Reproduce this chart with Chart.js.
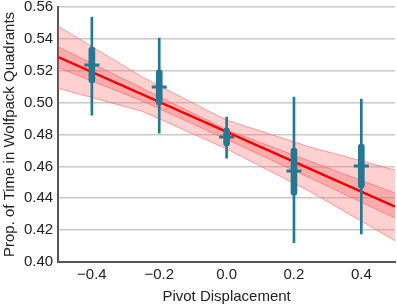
<!DOCTYPE html>
<html>
<head>
<meta charset="utf-8">
<script src="https://cdn.jsdelivr.net/npm/chart.js@4"></script>
<style>
  html, body { margin: 0; padding: 0; background: #fff; overflow: hidden; }
  #wrap { width: 397px; height: 307px; }
  canvas { display: block; }
</style>
</head>
<body>
<div id="wrap"><canvas id="myChart" width="397" height="307"></canvas></div>
<script>
// pivot displacement groups
const xs = [-0.4, -0.2, 0.0, 0.2, 0.4];
const tickLabels = ['\u22120.4', '\u22120.2', '0.0', '0.2', '0.4'];

// group estimates with intervals
const means   = [0.5236, 0.5098, 0.4784, 0.4571, 0.4602];
const thinLo  = [0.4922, 0.4809, 0.4652, 0.4121, 0.4176];
const thinHi  = [0.5537, 0.5405, 0.4910, 0.5035, 0.5023];
const thickLo = [0.5123, 0.4985, 0.4728, 0.4420, 0.4464];
const thickHi = [0.5349, 0.5205, 0.4841, 0.4715, 0.4740];

// regression line + bands
const fitX = [-0.5, 0.5];
const fitY = [0.5286, 0.4347];
const bandX   = [-0.5, -0.25, 0.0, 0.25, 0.5];
const outerHi = [0.548, 0.516, 0.489, 0.4720, 0.4577];
const outerLo = [0.509, 0.4945, 0.471, 0.4440, 0.4134];
const innerHi = [0.535, 0.509, 0.483, 0.4630, 0.4433];
const innerLo = [0.522, 0.501, 0.477, 0.4525, 0.4276];

const teal = '#247892';
const fontFam = 'Liberation Sans';

function pts(x, y) {
  return x.map(function (v, i) { return { x: v, y: y[i] }; });
}
function ranges(lo, hi) {
  return xs.map(function (v, i) { return { x: v, y: [lo[i], hi[i]] }; });
}

const data = {
  datasets: [
    { type: 'line', data: pts(bandX, outerHi), fill: '+1', backgroundColor: 'rgba(255,120,120,0.35)',
      borderColor: 'rgba(245,120,120,0.7)', borderWidth: 1, pointRadius: 0, order: 5 },
    { type: 'line', data: pts(bandX, outerLo), fill: false,
      borderColor: 'rgba(245,120,120,0.7)', borderWidth: 1, pointRadius: 0, order: 5 },
    { type: 'line', data: pts(bandX, innerHi), fill: '+1', backgroundColor: 'rgba(240,90,90,0.3)',
      borderColor: 'rgba(235,100,100,0.6)', borderWidth: 1, pointRadius: 0, order: 4 },
    { type: 'line', data: pts(bandX, innerLo), fill: false,
      borderColor: 'rgba(235,100,100,0.6)', borderWidth: 1, pointRadius: 0, order: 4 },
    { type: 'line', data: pts(fitX, fitY), fill: false,
      borderColor: '#f00000', borderWidth: 2.5, pointRadius: 0, order: 3 },
    { type: 'bar', data: ranges(thinLo, thinHi), backgroundColor: teal,
      barThickness: 2, grouped: false, order: 2 },
    { type: 'bar', data: ranges(thickLo, thickHi), backgroundColor: teal,
      barThickness: 6, borderRadius: 3, borderSkipped: false, grouped: false, order: 1 },
    { type: 'scatter', data: pts(xs, means), pointStyle: 'line', pointRadius: 7.5,
      borderColor: teal, borderWidth: 3, order: 0 }
  ]
};

const config = {
  type: 'bar',
  data: data,
  options: {
    responsive: false,
    animation: false,
    layout: { autoPadding: false, padding: { top: 7, right: 2, left: 1, bottom: 1 } },
    plugins: { legend: { display: false }, tooltip: { enabled: false } },
    scales: {
      x: {
        type: 'linear',
        min: -0.5, max: 0.5,
        offset: false,
        afterBuildTicks: function (axis) {
          axis.ticks = xs.map(function (v) { return { value: v }; });
        },
        afterFit: function (axis) {
          axis.paddingRight = 0;
          axis.paddingLeft = 0;
        },
        ticks: {
          color: '#222',
          font: { family: fontFam, size: 15 },
          padding: 4,
          callback: function (v) { return tickLabels[xs.indexOf(v)]; }
        },
        grid: { display: false, drawTicks: false },
        border: { display: true, color: '#555', width: 2 },
        title: { display: true, text: 'Pivot Displacement', color: '#222',
          font: { family: fontFam, size: 15 }, padding: { top: 0, bottom: 0 } }
      },
      y: {
        min: 0.40, max: 0.56,
        afterFit: function (axis) {
          axis.paddingTop = 0;
          axis.paddingBottom = 0;
        },
        ticks: {
          stepSize: 0.02,
          color: '#222',
          font: { family: fontFam, size: 15 },
          padding: 5,
          callback: function (v) { return v.toFixed(2); }
        },
        grid: { color: '#c8c8c8', lineWidth: 1.5, drawTicks: false },
        border: { display: true, color: '#555', width: 2 },
        title: { display: true, text: 'Prop. of Time in Wolfpack Quadrants', color: '#222',
          font: { family: fontFam, size: 15 }, padding: { top: 0, bottom: 0 } }
      }
    }
  }
};

const myChart = new Chart(document.getElementById('myChart'), config);
</script>
</body>
</html>
